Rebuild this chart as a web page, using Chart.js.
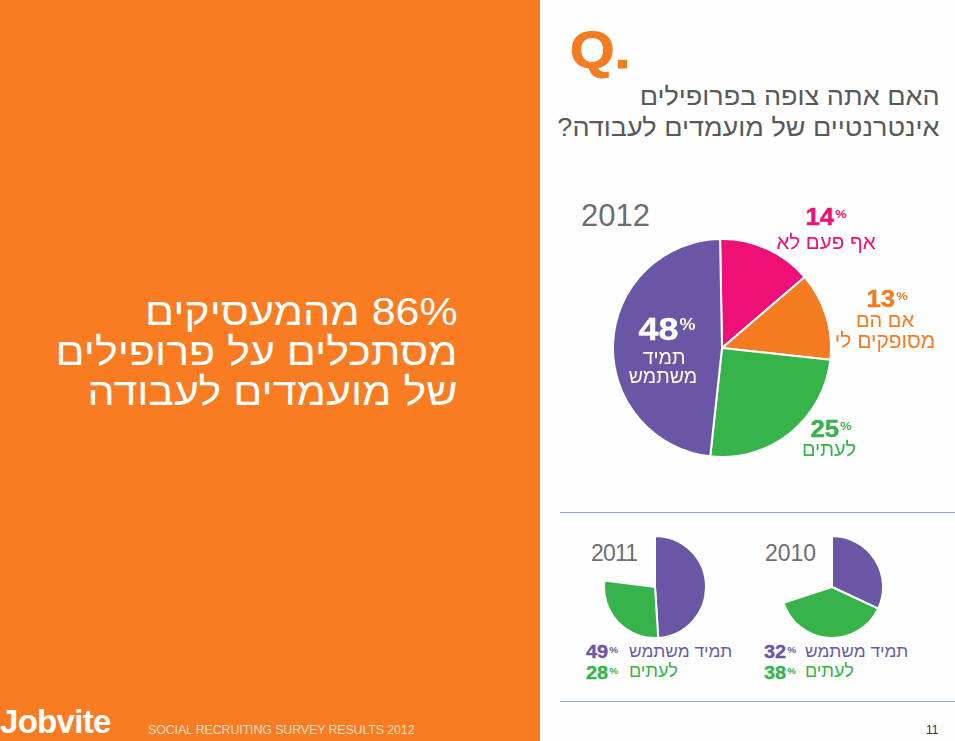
<!DOCTYPE html>
<html lang="he">
<head>
<meta charset="utf-8">
<script src="https://cdn.jsdelivr.net/npm/chart.js@4/dist/chart.umd.js"></script>
<style>
html,body{margin:0;padding:0;background:#fff;}
#page{position:relative;width:955px;height:741px;overflow:hidden;background:#fefefe;font-family:"Liberation Sans",Arial,sans-serif;}
#left{position:absolute;left:0;top:0;width:540px;height:741px;background:#f97c22;}
.t{position:absolute;white-space:nowrap;line-height:.85;}
.rtl{direction:rtl;}
.c{transform:translateX(-50%);text-align:center;}
.n{transform:translateX(-50%) scaleX(1.12);text-align:center;-webkit-text-stroke:.4px currentColor;}
.ln{transform:scaleX(1.14);transform-origin:left center;-webkit-text-stroke:.3px currentColor;}
canvas{position:absolute;}
.rule{position:absolute;left:560px;width:395px;height:1px;background:#8ea6d6;}
sup{font-size:.5em;font-weight:700;vertical-align:baseline;position:relative;top:-.62em;margin-left:1px;-webkit-text-stroke:0;}
</style>
</head>
<body>
<div id="page">
  <div id="left"></div>
  <div class="t rtl" style="right:497px;top:292px;font-size:38.5px;line-height:40px;color:#fff;text-align:right;transform:scaleX(1.115);transform-origin:right center;">86% מהמעסיקים<br>מסתכלים על פרופילים<br>של מועמדים לעבודה</div>
  <div class="t" style="left:0;top:708px;font-size:33px;font-weight:700;color:#fff;letter-spacing:-.7px;">Jobvite</div>
  <div class="t" style="left:148px;top:725px;font-size:12.4px;color:#fcdcc0;letter-spacing:-.1px;">SOCIAL RECRUITING SURVEY RESULTS 2012</div>

  <div class="t" style="left:570px;top:28px;font-size:52px;font-weight:700;color:#f47b20;transform:scaleX(1.1);transform-origin:left center;-webkit-text-stroke:1px #f47b20;">Q.</div>
  <div class="t rtl" style="right:15px;top:81px;font-size:25.5px;line-height:31px;color:#58595b;text-align:right;transform:scaleX(1.06);transform-origin:right center;">האם אתה צופה בפרופילים<br>אינטרנטיים של מועמדים לעבודה?</div>

  <div class="t" style="left:581px;top:203px;font-size:31px;color:#6d6e71;">2012</div>
  <div class="t" style="left:591px;top:544px;font-size:23px;color:#6d6e71;letter-spacing:-.8px;">2011</div>
  <div class="t" style="left:765px;top:544px;font-size:23px;color:#6d6e71;">2010</div>

  <canvas id="c2012"></canvas>
  <canvas id="c2011"></canvas>
  <canvas id="c2010"></canvas>
  <div id="labels"></div>

  <div class="rule" style="top:512px;"></div>
  <div class="rule" style="top:701px;"></div>
  <div class="t" style="left:926px;top:725px;font-size:12px;color:#333;">11</div>
</div>
<script>
const categories2012 = ["אף פעם לא", "אם הם מסופקים לי", "לעתים", "תמיד משתמש"];
const values2012 = [14, 13, 25, 48];
const colors2012 = ["#ee0f77", "#f47b20", "#36b34a", "#6b55a5"];

const categoriesSmall = ["תמיד משתמש", "לעתים", "אחר"];
const values2011 = [49, 28, 23];
const values2010 = [32, 38, 30];
const colorsSmall = ["#6b55a5", "#36b34a", "rgba(0,0,0,0)"];

function pie(id, labels, data, colors, cx, cy, r, border, rotation) {
  const el = document.getElementById(id);
  const size = 2 * r + border;
  el.width = size; el.height = size;
  el.style.width = size + "px"; el.style.height = size + "px";
  el.style.left = (cx - size / 2) + "px";
  el.style.top = (cy - size / 2) + "px";
  const borders = colors.map(c => c === "rgba(0,0,0,0)" ? c : "#ffffff");
  return new Chart(el, {
    type: "pie",
    data: { labels, datasets: [{ data, backgroundColor: colors, borderColor: borders, borderWidth: border }] },
    options: {
      responsive: false, animation: false, rotation,
      layout: { padding: 0 },
      plugins: { legend: { display: false }, tooltip: { enabled: false } }
    }
  });
}
pie("c2012", categories2012, values2012, colors2012, 722, 348, 109, 2, -1);
pie("c2011", categoriesSmall, values2011, colorsSmall, 655, 587, 51, 2, 0);
pie("c2010", categoriesSmall, values2010, colorsSmall, 832, 587, 51, 2, 0);

const box = document.getElementById("labels");
function add(html, style, cls) {
  const d = document.createElement("div");
  d.className = "t " + (cls || "");
  d.style.cssText = style;
  d.innerHTML = html;
  box.appendChild(d);
}
const pct = v => v + "<sup>%</sup>";

add(pct(values2012[0]), "left:826px;top:208px;font-size:23px;font-weight:700;color:" + colors2012[0], "n");
add(categories2012[0], "left:826px;top:233px;font-size:20.5px;color:" + colors2012[0], "c rtl");

add(pct(values2012[1]), "left:887px;top:290px;font-size:23px;font-weight:700;color:" + colors2012[1], "n");
add("אם הם", "left:885px;top:312px;font-size:20px;color:" + colors2012[1], "c rtl");
add("מסופקים לי", "left:885px;top:332px;font-size:21px;color:" + colors2012[1], "c rtl");

add(pct(values2012[2]), "left:831px;top:420px;font-size:23px;font-weight:700;color:" + colors2012[2], "n");
add(categories2012[2], "left:829px;top:441px;font-size:20px;color:" + colors2012[2], "c rtl");

add(pct(values2012[3]), "left:667px;top:316px;font-size:32px;font-weight:700;color:#fff", "n");
add("תמיד", "left:664px;top:349px;font-size:19.5px;color:#fff", "c rtl");
add("משתמש", "left:663px;top:368px;font-size:19.5px;color:#fff", "c rtl");

function legend(x1, x2, a, b) {
  add(pct(a), "left:" + x1 + "px;top:645px;font-size:17.5px;font-weight:700;color:" + colorsSmall[0], "ln");
  add(categoriesSmall[0], "left:" + x2 + "px;top:644px;font-size:17.3px;color:#6b5ba5", "");
  add(pct(b), "left:" + x1 + "px;top:666px;font-size:17.5px;font-weight:700;color:" + colorsSmall[1], "ln");
  add(categoriesSmall[1], "left:" + x2 + "px;top:664px;font-size:18px;color:" + colorsSmall[1], "");
}
legend(586, 629, values2011[0], values2011[1]);
legend(764, 805, values2010[0], values2010[1]);
</script>
</body>
</html>
